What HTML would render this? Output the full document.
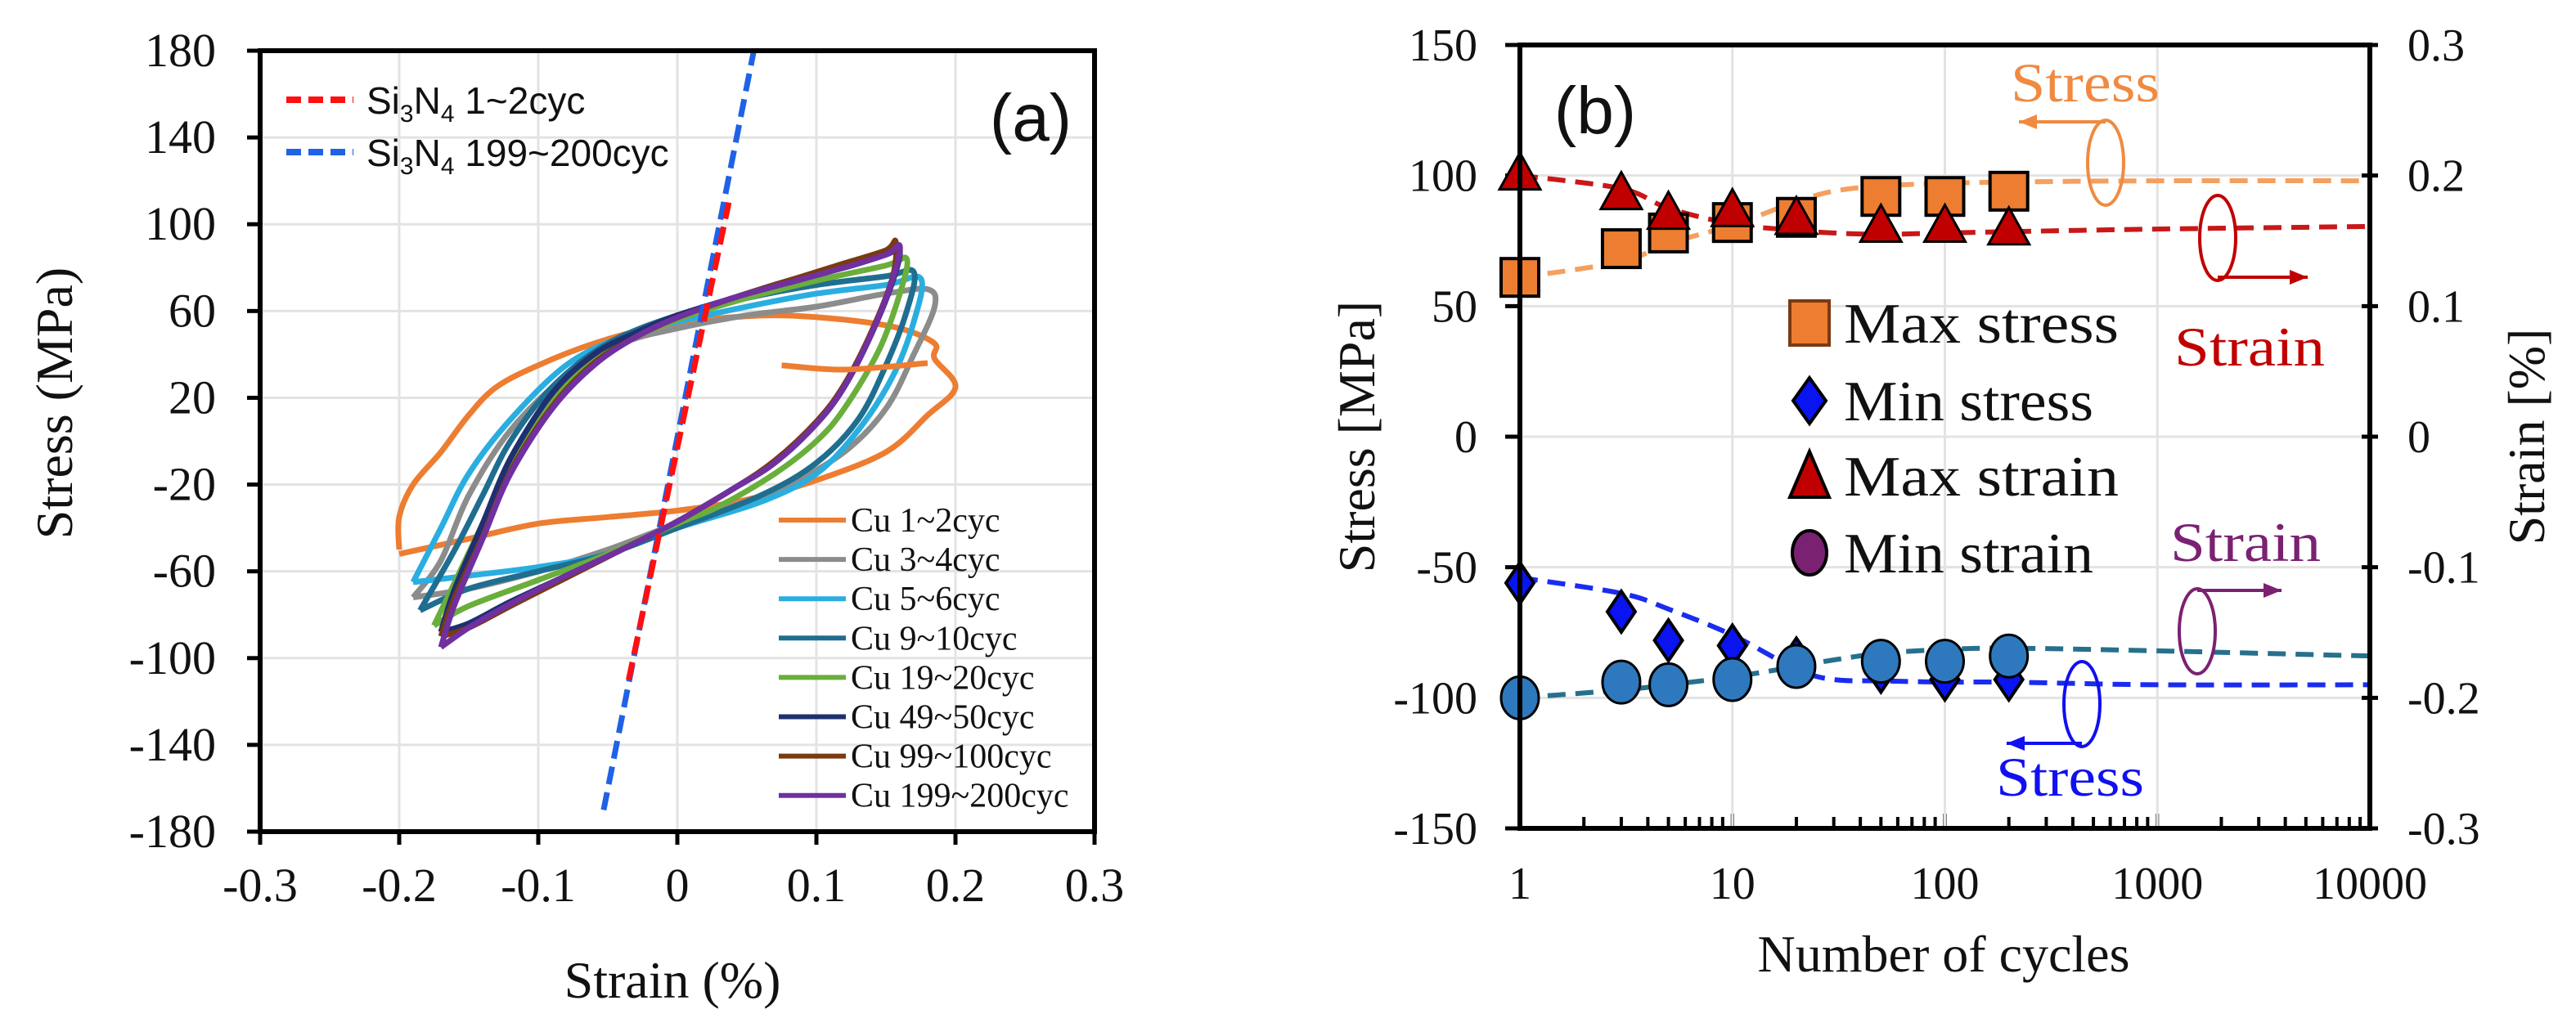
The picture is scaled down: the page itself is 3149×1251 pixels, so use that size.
<!DOCTYPE html>
<html><head><meta charset="utf-8"><style>
html,body{margin:0;padding:0;background:#fff;}
svg{display:block;}
.serif{font-family:"Liberation Serif",serif;}
.sans{font-family:"Liberation Sans",sans-serif;}
</style></head><body>
<svg id="svg" width="3149" height="1251" viewBox="0 0 3149 1251" xmlns="http://www.w3.org/2000/svg">
<g id="ga"></g>
<g id="gb"></g>
</svg>
<script>
// ---------- Panel (a) data ----------
const aXTicks = [-0.3,-0.2,-0.1,0,0.1,0.2,0.3];
const aXTickLabels = ["-0.3","-0.2","-0.1","0","0.1","0.2","0.3"];
const aYTicks = [180,140,100,60,20,-20,-60,-100,-140,-180];
const aYTickLabels = ["180","140","100","60","20","-20","-60","-100","-140","-180"];
const siNames = ["Si3N4 1~2cyc","Si3N4 199~200cyc"];
const si1Strain = [-0.035,0.037];
const si1Stress = [-110,110];
const si200Strain = [-0.053,0.055];
const si200Stress = [-170,180];
const cuNames = ["Cu 1~2cyc","Cu 3~4cyc","Cu 5~6cyc","Cu 9~10cyc","Cu 19~20cyc","Cu 49~50cyc","Cu 99~100cyc","Cu 199~200cyc"];
const cu1Strain = [-0.2,-0.2,-0.19,-0.17,-0.15,-0.13,-0.1,-0.06,-0.02,0.02,0.07,0.12,0.16,0.185,0.185,0.2,0.18,0.15,0.1,0.05,0,-0.05,-0.1,-0.15,-0.2];
const cu1Stress = [-50,-35,-20,-5,12,25,35,45,52,56,58,56,52,45,38,25,12,-5,-18,-27,-32,-35,-38,-45,-52];
const cu1bStrain = [0.075,0.12,0.18];
const cu1bStress = [35,33,36];
const cu3Strain = [-0.19,-0.17,-0.15,-0.12,-0.08,-0.04,0,0.05,0.1,0.15,0.18,0.185,0.17,0.15,0.12,0.08,0.04,0,-0.05,-0.1,-0.15,-0.19];
const cu3Stress = [-72,-55,-25,5,30,45,52,58,62,68,70,62,40,15,-5,-20,-30,-38,-50,-60,-68,-72];
const cu5Strain = [-0.19,-0.17,-0.15,-0.12,-0.08,-0.04,0,0.05,0.1,0.15,0.175,0.17,0.155,0.13,0.1,0.06,0,-0.05,-0.1,-0.15,-0.19];
const cu5Stress = [-65,-40,-15,10,35,48,55,62,68,72,75,55,30,5,-15,-28,-40,-52,-58,-62,-65];
const cu9Strain = [-0.185,-0.16,-0.14,-0.12,-0.09,-0.05,0,0.05,0.1,0.15,0.17,0.165,0.15,0.13,0.1,0.06,0,-0.05,-0.1,-0.15,-0.185];
const cu9Stress = [-78,-50,-25,0,25,45,58,66,72,76,78,60,35,10,-10,-25,-40,-52,-60,-68,-78];
const cu19Strain = [-0.175,-0.16,-0.14,-0.12,-0.09,-0.05,0,0.05,0.1,0.15,0.165,0.16,0.145,0.12,0.1,0.07,0.03,0,-0.05,-0.1,-0.15,-0.175];
const cu19Stress = [-85,-65,-38,-10,20,42,56,66,74,81,84,68,42,15,0,-15,-30,-38,-52,-64,-76,-85];
const cu49Strain = [-0.17,-0.16,-0.14,-0.12,-0.09,-0.06,-0.03,0,0.04,0.08,0.12,0.15,0.16,0.155,0.14,0.12,0.1,0.07,0.04,0,-0.04,-0.08,-0.12,-0.15,-0.17];
const cu49Stress = [-88,-68,-38,-8,22,40,50,58,66,74,80,86,88,74,50,25,8,-10,-22,-37,-50,-62,-74,-84,-88];
const cu99Strain = [-0.17,-0.16,-0.14,-0.12,-0.09,-0.06,-0.03,0,0.04,0.08,0.12,0.15,0.157,0.155,0.14,0.12,0.1,0.07,0.04,0,-0.04,-0.08,-0.12,-0.15,-0.17];
const cu99Stress = [-90,-72,-44,-14,16,36,48,57,66,74,82,88,92,76,51,26,9,-9,-22,-37,-50,-63,-76,-86,-90];
const cu199Strain = [-0.17,-0.16,-0.14,-0.12,-0.09,-0.06,-0.03,0,0.04,0.08,0.12,0.15,0.16,0.155,0.14,0.12,0.1,0.07,0.04,0,-0.04,-0.08,-0.12,-0.15,-0.17];
const cu199Stress = [-95,-75,-45,-15,15,35,48,57,66,73,80,86,90,75,50,25,8,-10,-22,-37,-50,-62,-75,-86,-95];

// ---------- Panel (b) data ----------
const bXTicks = [1,10,100,1000,10000];
const bXTickLabels = ["1","10","100","1000","10000"];
const bYTicks = [150,100,50,0,-50,-100,-150];
const bYTickLabels = ["150","100","50","0","-50","-100","-150"];
const bY2Ticks = [0.3,0.2,0.1,0,-0.1,-0.2,-0.3];
const bY2TickLabels = ["0.3","0.2","0.1","0","-0.1","-0.2","-0.3"];
const cycles = [1,3,5,10,20,50,100,200];
const maxStress = [61,72,78,82,84,92,92,94];
const minStress = [-56,-67,-78,-80,-85,-90,-93,-93];
const maxStrain = [0.2,0.185,0.17,0.172,0.166,0.16,0.16,0.158];
const minStrain = [-0.2,-0.188,-0.19,-0.186,-0.176,-0.172,-0.172,-0.168];
const trendN = [1,3,5,10,20,30,50,100,200,1000,10000];
const trendMaxStress = [61,67,74,81,90,94,96,97,97.5,98,98];
const trendMinStress = [-54,-60,-66,-76,-89,-93,-93.5,-94,-94,-95,-95];
const trendMaxStrain = [0.2,0.19,0.175,0.163,0.158,0.156,0.155,0.156,0.157,0.159,0.161];
const trendMinStrain = [-0.2,-0.194,-0.19,-0.184,-0.176,-0.171,-0.166,-0.163,-0.162,-0.164,-0.168];

const NS="http://www.w3.org/2000/svg";
function mk(parent,tag,attrs,text){const e=document.createElementNS(NS,tag);for(const k in attrs)e.setAttribute(k,attrs[k]);if(text!==undefined)e.textContent=text;parent.appendChild(e);return e;}
function smoothPath(pts){
  let d="M"+pts[0][0].toFixed(1)+","+pts[0][1].toFixed(1);
  for(let i=0;i<pts.length-1;i++){
    const p0=pts[Math.max(0,i-1)],p1=pts[i],p2=pts[i+1],p3=pts[Math.min(pts.length-1,i+2)];
    const c1=[p1[0]+(p2[0]-p0[0])/6,p1[1]+(p2[1]-p0[1])/6];
    const c2=[p2[0]-(p3[0]-p1[0])/6,p2[1]-(p3[1]-p1[1])/6];
    d+=" C"+c1[0].toFixed(1)+","+c1[1].toFixed(1)+" "+c2[0].toFixed(1)+","+c2[1].toFixed(1)+" "+p2[0].toFixed(1)+","+p2[1].toFixed(1);
  }
  return d;
}

// ===== Panel a =====
const ga=document.getElementById('ga');
const aL=318,aR=1338,aT=62,aB=1017;
const sx=v=>aL+(v+0.3)/0.6*(aR-aL);
const sy=v=>aT+(180-v)/360*(aB-aT);
aXTicks.forEach((t,i)=>{
  const x=sx(t);
  if(i>0&&i<aXTicks.length-1){const g=mk(ga,'line',{x1:x,y1:aT,x2:x,y2:aB,stroke:'#e3e3e3','stroke-width':3});
  }
  const tk=mk(ga,'line',{x1:x,y1:aB,x2:x,y2:aB+16,stroke:'#000','stroke-width':5});
  
  const lb=mk(ga,'text',{x:x,y:1102,'text-anchor':'middle','font-size':58,class:'serif',fill:'#111'},aXTickLabels[i]);
  
});
aYTicks.forEach((t,i)=>{
  const y=sy(t);
  if(i>0&&i<aYTicks.length-1){const g=mk(ga,'line',{x1:aL,y1:y,x2:aR,y2:y,stroke:'#e3e3e3','stroke-width':3});
  }
  const tk=mk(ga,'line',{x1:aL-16,y1:y,x2:aL,y2:y,stroke:'#000','stroke-width':5});
  
  const lb=mk(ga,'text',{x:264,y:y+19,'text-anchor':'end','font-size':58,class:'serif',fill:'#111'},aYTickLabels[i]);
  
});
const cuColors=['#ED7D31','#8C8C8C','#2AAEE0','#1F6E90','#6AAE3C','#1F3070','#7A3A12','#7030A0'];
const cuStrains=[cu1Strain,cu3Strain,cu5Strain,cu9Strain,cu19Strain,cu49Strain,cu99Strain,cu199Strain];
const cuStresses=[cu1Stress,cu3Stress,cu5Stress,cu9Stress,cu19Stress,cu49Stress,cu99Stress,cu199Stress];
cuStrains.forEach((st,k)=>{
  const pts=st.map((v,i)=>[sx(v),sy(cuStresses[k][i])]);
  const p=mk(ga,'path',{d:smoothPath(pts),fill:'none',stroke:cuColors[k],'stroke-width':7,'stroke-linejoin':'round'});
  
  
});
{const pts=cu1bStrain.map((v,i)=>[sx(v),sy(cu1bStress[i])]);
 const p=mk(ga,'path',{d:smoothPath(pts),fill:'none',stroke:cuColors[0],'stroke-width':7});
 }
{const l=mk(ga,'line',{x1:sx(si200Strain[0]),y1:sy(si200Stress[0]),x2:sx(si200Strain[1]),y2:sy(si200Stress[1]),stroke:'#1F62E8','stroke-width':7,'stroke-dasharray':'22 10'});
 
 const r=mk(ga,'line',{x1:sx(si1Strain[0]),y1:sy(si1Stress[0]),x2:sx(si1Strain[1]),y2:sy(si1Stress[1]),stroke:'#FF1010','stroke-width':7,'stroke-dasharray':'22 10'});
 }
{const f=mk(ga,'rect',{x:aL,y:aT,width:aR-aL,height:aB-aT,fill:'none',stroke:'#000','stroke-width':6});
 }
[[si1Strain,'#FF1010','1~2cyc',122],[si200Strain,'#1F62E8','199~200cyc',186]].forEach((e,i)=>{
  const l=mk(ga,'line',{x1:350,y1:e[3],x2:432,y2:e[3],stroke:e[1],'stroke-width':8,'stroke-dasharray':'18 9'});
  
  const t=mk(ga,'text',{x:448,y:e[3]+17,'font-size':46,class:'sans',fill:'#111'});
  
  mk(t,'tspan',{},'Si');mk(t,'tspan',{'font-size':30,dy:10},'3');mk(t,'tspan',{dy:-10},'N');
  mk(t,'tspan',{'font-size':30,dy:10},'4');mk(t,'tspan',{dy:-10},' '+e[2]);
});
{const t=mk(ga,'text',{x:1260,y:172,'text-anchor':'middle','font-size':82,class:'sans',fill:'#111'},'(a)');
 }
cuNames.forEach((n,k)=>{
  const y=636+k*48.1;
  const l=mk(ga,'line',{x1:952,y1:y,x2:1034,y2:y,stroke:cuColors[k],'stroke-width':6});
  
  const t=mk(ga,'text',{x:1040,y:y+14,'font-size':42,class:'serif',fill:'#111'},n);
  
});
{const t=mk(ga,'text',{x:822,y:1220,'text-anchor':'middle','font-size':64,class:'serif',fill:'#111'},'Strain (%)');
 
 const t2=mk(ga,'text',{x:0,y:0,'text-anchor':'middle','font-size':64,class:'serif',fill:'#111',transform:'translate(88,493) rotate(-90)'},'Stress (MPa)');
 }

// ===== Panel b =====
const gb=document.getElementById('gb');
const bL=1858,bR=2897,bT=55,bB=1013;
const bx=n=>bL+Math.log10(n)/4*(bR-bL);
const by=s=>bT+(150-s)/300*(bB-bT);
const by2=e=>by(e*500);
bYTicks.forEach((t,i)=>{
  const y=by(t);
  if(i>0&&i<bYTicks.length-1){const g=mk(gb,'line',{x1:bL,y1:y,x2:bR,y2:y,stroke:'#e3e3e3','stroke-width':3});
  }
  const tk=mk(gb,'line',{x1:bL-18,y1:y,x2:bL,y2:y,stroke:'#000','stroke-width':5});
  
  const lb=mk(gb,'text',{x:1806,y:y+19,'text-anchor':'end','font-size':56,class:'serif',fill:'#111'},bYTickLabels[i]);
  
});
bY2Ticks.forEach((t,i)=>{
  const y=by2(t);
  const tk=mk(gb,'line',{x1:bR-10,y1:y,x2:bR+10,y2:y,stroke:'#000','stroke-width':5});
  
  const lb=mk(gb,'text',{x:2943,y:y+19,'font-size':56,class:'serif',fill:'#111'},bY2TickLabels[i]);
  
});
bXTicks.forEach((t,i)=>{
  const x=bx(t);
  if(i>0&&i<bXTicks.length-1){const g=mk(gb,'line',{x1:x,y1:bT,x2:x,y2:bB,stroke:'#e3e3e3','stroke-width':3});
  }
  const lb=mk(gb,'text',{x:x,y:1099,'text-anchor':'middle','font-size':56,class:'serif',fill:'#111'},bXTickLabels[i]);
  
  if(i<bXTicks.length-1){for(let m=2;m<=10;m++){const xx=bx(t*m);
    const tk=mk(gb,'line',{x1:xx,y1:bB,x2:xx,y2:bB-(m===10?18:14),stroke:'#000','stroke-width':4});
    }}
});
function trend(arr,conv,color,name){
  const pts=trendN.map((n,i)=>[bx(n),conv(arr[i])]);
  const p=mk(gb,'path',{d:smoothPath(pts),fill:'none',stroke:color,'stroke-width':6,'stroke-dasharray':'22 12'});
  
}
trend(trendMaxStress,by,'#F4A060','trend-max-stress');
trend(trendMaxStrain,by2,'#C81818','trend-max-strain');
trend(trendMinStrain,by2,'#26708C','trend-min-strain');
trend(trendMinStress,by,'#1A2CF0','trend-min-stress');
cycles.forEach((n,i)=>{
  const x=bx(n),y=by(maxStress[i]);
  const s=mk(gb,'rect',{x:x-23,y:y-23,width:46,height:46,fill:'#ED7D31',stroke:'#000','stroke-width':4});
  
});
cycles.forEach((n,i)=>{
  const x=bx(n),y=by2(maxStrain[i]);
  const s=mk(gb,'polygon',{points:`${x},${y-28} ${x+25},${y+17} ${x-25},${y+17}`,fill:'#C00000',stroke:'#000','stroke-width':3});
  
});
cycles.forEach((n,i)=>{
  const x=bx(n),y=by(minStress[i]);
  const s=mk(gb,'polygon',{points:`${x},${y-25} ${x+17},${y} ${x},${y+25} ${x-17},${y}`,fill:'#0A14F0',stroke:'#000','stroke-width':4});
  
});
cycles.forEach((n,i)=>{
  const x=bx(n),y=by2(minStrain[i]);
  const s=mk(gb,'ellipse',{cx:x,cy:y,rx:23,ry:26,fill:'#2E78BE',stroke:'#000','stroke-width':3});
  
});
{const f=mk(gb,'rect',{x:bL,y:bT,width:bR-bL,height:bB-bT,fill:'none',stroke:'#000','stroke-width':6});
 }
{const t=mk(gb,'text',{x:1950,y:163,'text-anchor':'middle','font-size':82,class:'sans',fill:'#111'},'(b)');
 }
const legNames=['Max stress','Min stress','Max strain','Min strain'];
const legY=[395,490,582,676];
legNames.forEach((n,i)=>{
  const x=2212,y=legY[i];let m;
  if(i===0)m=mk(gb,'rect',{x:x-24,y:y-27,width:48,height:54,fill:'#ED7D31',stroke:'#7A3A12','stroke-width':4});
  if(i===1)m=mk(gb,'polygon',{points:`${x},${y-28} ${x+20},${y} ${x},${y+28} ${x-20},${y}`,fill:'#0A14F0',stroke:'#000','stroke-width':4});
  if(i===2)m=mk(gb,'polygon',{points:`${x},${y-30} ${x+24},${y+26} ${x-24},${y+26}`,fill:'#C00000',stroke:'#000','stroke-width':4});
  if(i===3)m=mk(gb,'ellipse',{cx:x,cy:y,rx:21,ry:27,fill:'#7B2172',stroke:'#000','stroke-width':4});
  
  const t=mk(gb,'text',{x:2254,y:y+24,'font-size':70,class:'serif',fill:'#111',textLength:i===0||i===2?336:305,lengthAdjust:'spacingAndGlyphs'},n);
  
});
function annot(color,text,tx,ty,tl,ecx,ecy,ax1,ay1,ax2,name){
  const g=mk(gb,'g',{});
  mk(g,'text',{x:tx,y:ty,'font-size':68,class:'serif',fill:color,textLength:tl,lengthAdjust:'spacingAndGlyphs'},text);
  mk(g,'ellipse',{cx:ecx,cy:ecy,rx:22,ry:52,fill:'none',stroke:color,'stroke-width':4});
  mk(g,'line',{x1:ax1,y1:ay1,x2:ax2,y2:ay1,stroke:color,'stroke-width':4});
  const d=ax2>ax1?1:-1;
  mk(g,'polygon',{points:`${ax2},${ay1} ${ax2-d*22},${ay1-9} ${ax2-d*22},${ay1+9}`,fill:color});
}
annot('#F08A40','Stress',2458,124,182,2574,199,2574,149,2468,'annotation-stress-orange');
annot('#C00000','Strain',2658,447,184,2711,291,2711,339,2821,'annotation-strain-red');
annot('#7B2172','Strain',2653,686,184,2686,772,2686,722,2789,'annotation-strain-purple');
annot('#1010F0','Stress',2440,973,181,2545,861,2545,909,2453,'annotation-stress-blue');
{const t=mk(gb,'text',{x:2376,y:1188,'text-anchor':'middle','font-size':64,class:'serif',fill:'#111'},'Number of cycles');
 
 const t2=mk(gb,'text',{x:0,y:0,'text-anchor':'middle','font-size':64,class:'serif',fill:'#111',transform:'translate(1680,534) rotate(-90)'},'Stress [MPa]');
 
 const t3=mk(gb,'text',{x:0,y:0,'text-anchor':'middle','font-size':64,class:'serif',fill:'#111',transform:'translate(3110,534) rotate(-90)'},'Strain [%]');
 }
</script>
</body></html>
